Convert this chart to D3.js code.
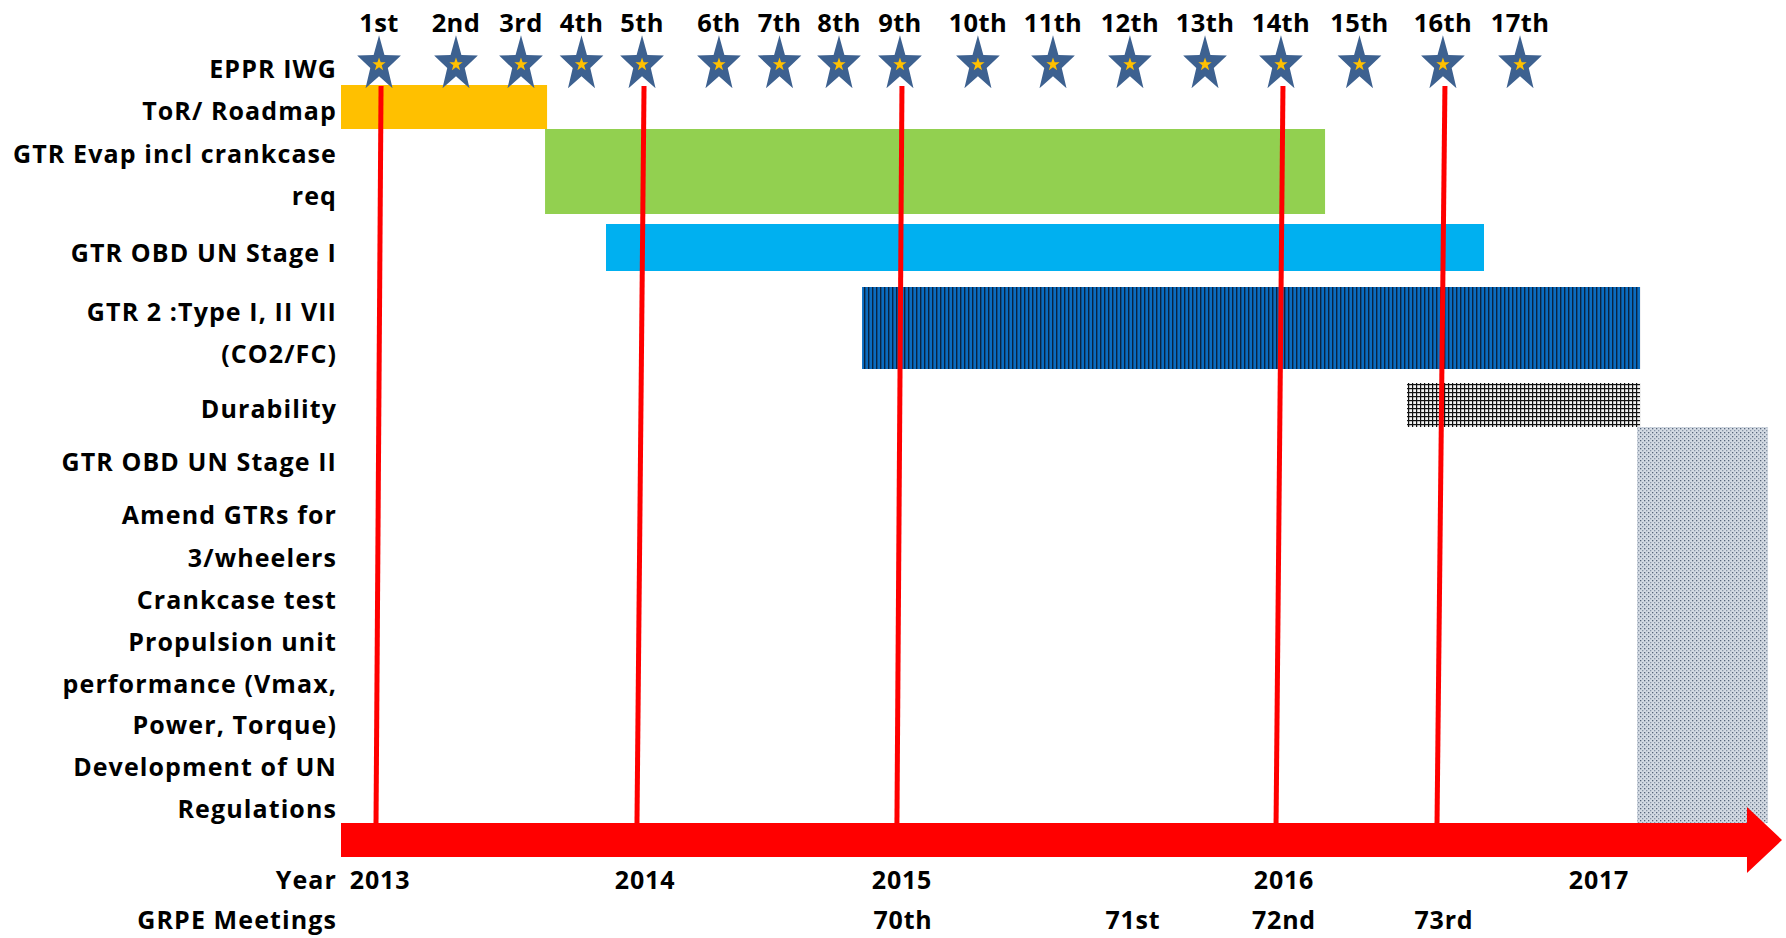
<!DOCTYPE html>
<html>
<head>
<meta charset="utf-8">
<script src="https://cdn.jsdelivr.net/npm/d3@7"></script>
<style>
  body { margin: 0; background: #ffffff; }
  text { font-family: "Open Sans", "Noto Sans", sans-serif; font-weight: 700; fill: #000000; }
</style>
</head>
<body>
<div id="chart"></div>
<script>
// Timeline of the EPPR IWG work items, redrawn with D3

// ---- data (timeline position 0..100 along the arrow) ----
var meetingLabels = ["1st", "2nd", "3rd", "4th", "5th", "6th", "7th", "8th", "9th",
    "10th", "11th", "12th", "13th", "14th", "15th", "16th", "17th"];
var meetingPos = [2.64, 7.98, 12.49, 16.69, 20.89, 26.23, 30.43, 34.56, 38.79,
    44.20, 49.41, 54.75, 59.96, 65.23, 70.68, 76.47, 81.82];

var taskNames = ["ToR/ Roadmap", "GTR Evap incl crankcase req", "GTR OBD UN Stage I",
    "GTR 2 :Type I, II VII (CO2/FC)", "Durability", "GTR OBD UN Stage II"];
var taskStart = [0, 14.16, 18.39, 36.16, 73.98, 89.94];
var taskEnd = [14.30, 68.29, 79.32, 90.15, 90.15, 99.03];

var rowLabels = ["EPPR IWG", "ToR/ Roadmap", "GTR Evap incl crankcase", "req",
    "GTR OBD UN Stage I", "GTR 2 :Type I, II VII", "(CO2/FC)", "Durability",
    "GTR OBD UN Stage II", "Amend GTRs for", "3/wheelers", "Crankcase test",
    "Propulsion unit", "performance (Vmax,", "Power, Torque)", "Development of UN",
    "Regulations", "Year", "GRPE Meetings"];

var years = ["2013", "2014", "2015", "2016", "2017"];
var yearPos = [2.71, 21.10, 38.93, 65.44, 87.30];

var grpeLabels = ["70th", "71st", "72nd", "73rd"];
var grpePos = [39.0, 54.96, 65.44, 76.54];

// red links: IWG meeting (index) down to the timeline
var linkMeeting = [0, 4, 8, 13, 15];
var linkEnd = [2.43, 20.54, 38.58, 64.89, 76.06];

// ---- layout ----
var W = 1786, H = 938;
var svg = null, x = null;
var labelRight = 337;
var rowY = [69, 111, 154, 196, 253, 312, 354, 409, 462, 515, 558, 600, 642, 684,
    725, 767, 809, 880, 920];
var taskBand = [[85, 129], [129, 214], [224, 271], [287, 369], [383, 427], [427, 823]];
var taskFill = ["#FFC000", "#92D050", "#00B0F0", "url(#stripes)", "url(#grid)", "url(#dots)"];
var starY = 64.5, starLabelY = 23;
var shaftTop = 823, shaftBottom = 857, headTop = 807, headBottom = 873, headBase = 97.57;

function initialize() {
    svg = d3.select("#chart")
        .append("svg")
        .attr("width", W)
        .attr("height", H);

    x = d3.scaleLinear()
        .domain([0, 100])
        .range([341, 1782]);

    var defs = svg.append("defs");

    var p1 = defs.append("pattern").attr("id", "stripes")
        .attr("patternUnits", "userSpaceOnUse").attr("width", 4).attr("height", 4);
    p1.append("rect").attr("width", 4).attr("height", 4).attr("fill", "#0A6CC0");
    p1.append("rect").attr("width", 1.4).attr("height", 4).attr("fill", "#0B2440");

    var p2 = defs.append("pattern").attr("id", "grid")
        .attr("patternUnits", "userSpaceOnUse").attr("width", 4).attr("height", 4);
    p2.append("rect").attr("width", 4).attr("height", 4).attr("fill", "#f2f2f2");
    p2.append("rect").attr("width", 1.2).attr("height", 4).attr("fill", "#111111");
    p2.append("rect").attr("width", 4).attr("height", 1.2).attr("fill", "#111111");

    var p3 = defs.append("pattern").attr("id", "dots")
        .attr("patternUnits", "userSpaceOnUse").attr("width", 4).attr("height", 4);
    p3.append("rect").attr("width", 4).attr("height", 4).attr("fill", "#D3DAE3");
    p3.append("rect").attr("width", 1.3).attr("height", 1.3).attr("fill", "#56657A");
    p3.append("rect").attr("x", 2).attr("y", 2).attr("width", 1.3).attr("height", 1.3).attr("fill", "#8794A6");
}

function starPath(R, r, sy) {
    var pts = [];
    for (var i = 0; i < 10; i++) {
        var a = -Math.PI / 2 + i * Math.PI / 5;
        var rad = (i % 2 === 0) ? R : r;
        pts.push([rad * Math.cos(a), rad * Math.sin(a) * sy]);
    }
    return "M" + pts.map(p => p[0].toFixed(2) + "," + p[1].toFixed(2)).join("L") + "Z";
}

function buildBars() {
    var tasks = taskNames.map((n, i) => ({ name: n, s: taskStart[i], e: taskEnd[i], i: i }));

    svg.append("g")
        .selectAll("rect")
        .data(tasks)
        .enter()
        .append("rect")
        .attr("x", d => x(d.s))
        .attr("width", d => x(d.e) - x(d.s))
        .attr("y", d => taskBand[d.i][0])
        .attr("height", d => taskBand[d.i][1] - taskBand[d.i][0])
        .attr("fill", d => taskFill[d.i]);

    // timeline arrow
    var arrow = d3.path();
    arrow.moveTo(x(0), shaftTop);
    arrow.lineTo(x(headBase), shaftTop);
    arrow.lineTo(x(headBase), headTop);
    arrow.lineTo(x(100), (headTop + headBottom) / 2);
    arrow.lineTo(x(headBase), headBottom);
    arrow.lineTo(x(headBase), shaftBottom);
    arrow.lineTo(x(0), shaftBottom);
    arrow.closePath();
    svg.append("path")
        .attr("d", arrow.toString())
        .attr("fill", "#FF0000");
}

function buildLinks() {
    var links = linkMeeting.map((m, i) => ({ top: meetingPos[m], bottom: linkEnd[i] }));

    svg.append("g")
        .selectAll("line")
        .data(links)
        .enter()
        .append("line")
        .attr("x1", d => x(d.top) + 2)
        .attr("y1", 86)
        .attr("x2", d => x(d.bottom))
        .attr("y2", shaftTop)
        .attr("stroke", "#FF0000")
        .attr("stroke-width", 5);
}

function buildStars() {
    var g = svg.append("g")
        .selectAll("g")
        .data(meetingPos)
        .enter()
        .append("g")
        .attr("transform", d => "translate(" + x(d) + "," + starY + ")");

    g.append("path")
        .attr("d", starPath(23, 9.2, 1.27))
        .attr("fill", "#3D6190");
    g.append("path")
        .attr("d", starPath(7, 2.8, 1.0))
        .attr("fill", "#FFC000");

    svg.append("g")
        .selectAll("text")
        .data(meetingLabels)
        .enter()
        .append("text")
        .text(d => d)
        .attr("x", (d, i) => x(meetingPos[i]))
        .attr("y", starLabelY)
        .attr("dy", "0.35em")
        .attr("text-anchor", "middle")
        .attr("font-size", "25.5px")
        .attr("letter-spacing", "0.4px");
}

function buildLabeling() {
    svg.append("g")
        .selectAll("text")
        .data(rowLabels)
        .enter()
        .append("text")
        .text(d => d)
        .attr("x", labelRight)
        .attr("y", (d, i) => rowY[i])
        .attr("dy", "0.35em")
        .attr("text-anchor", "end")
        .attr("font-size", "25px")
        .attr("letter-spacing", "1.1px");

    svg.append("g")
        .selectAll("text")
        .data(years)
        .enter()
        .append("text")
        .text(d => d)
        .attr("x", (d, i) => x(yearPos[i]))
        .attr("y", rowY[17])
        .attr("dy", "0.35em")
        .attr("text-anchor", "middle")
        .attr("font-size", "25px")
        .attr("letter-spacing", "0.8px");

    svg.append("g")
        .selectAll("text")
        .data(grpeLabels)
        .enter()
        .append("text")
        .text(d => d)
        .attr("x", (d, i) => x(grpePos[i]))
        .attr("y", rowY[18])
        .attr("dy", "0.35em")
        .attr("text-anchor", "middle")
        .attr("font-size", "25px")
        .attr("letter-spacing", "0.8px");
}

initialize();
buildBars();
buildLinks();
buildStars();
buildLabeling();
</script>
</body>
</html>
